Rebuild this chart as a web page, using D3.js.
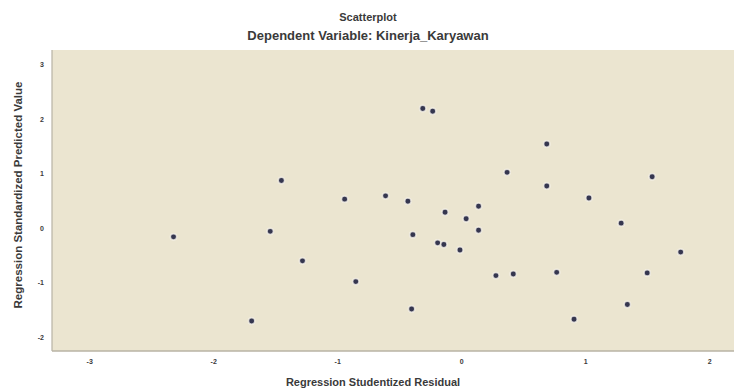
<!DOCTYPE html>
<html>
<head>
<meta charset="utf-8">
<script src="https://cdn.jsdelivr.net/npm/d3@7"></script>
<style>
  body { margin: 0; background: #fff; }
  text { font-family: "Liberation Sans", Arial, sans-serif; fill: #3a3a3a; }
</style>
</head>
<body>
<div id="chart"></div>
<script>
// Studentized residuals (x) and standardized predicted values (y)
var residual = [-2.32, -1.69, -1.54, -1.45, -1.28, -0.94, -0.85, -0.61, -0.43, -0.39, -0.40,
                -0.31, -0.23, -0.19, -0.14, -0.13, -0.01, 0.04, 0.14, 0.14, 0.28, 0.42,
                0.37, 0.69, 0.69, 0.77, 0.91, 1.03, 1.29, 1.34, 1.50, 1.54, 1.77];
var predicted = [-0.16, -1.70, -0.06, 0.87, -0.60, 0.53, -0.98, 0.59, 0.49, -0.12, -1.48,
                 2.19, 2.14, -0.27, -0.30, 0.29, -0.40, 0.17, 0.40, -0.04, -0.87, -0.84,
                 1.02, 1.54, 0.77, -0.81, -1.67, 0.55, 0.09, -1.40, -0.82, 0.94, -0.44];
var xTicks = [-3, -2, -1, 0, 1, 2];
var yTicks = [-2, -1, 0, 1, 2, 3];

var title = "Scatterplot";
var subtitle = "Dependent Variable: Kinerja_Karyawan";
var xTitle = "Regression Studentized Residual";
var yTitle = "Regression Standardized Predicted Value";

var W = 734, H = 392;
var plot = {left: 52, right: 734, top: 50, bottom: 351};

var svg = d3.select("#chart").append("svg")
    .attr("width", W)
    .attr("height", H);

var x = d3.scaleLinear().domain([-3.3, 2.2]).range([plot.left, plot.right]);
var y = d3.scaleLinear().domain([-2.25, 3.26]).range([plot.bottom, plot.top]);

// plot background
svg.append("rect")
    .attr("x", plot.left)
    .attr("y", plot.top)
    .attr("width", plot.right - plot.left)
    .attr("height", plot.bottom - plot.top)
    .attr("fill", "#ebe5d0");

// frame lines (left and bottom)
svg.append("line")
    .attr("x1", plot.left).attr("x2", plot.left)
    .attr("y1", plot.top).attr("y2", plot.bottom)
    .attr("stroke", "#b8b3a4").attr("stroke-width", 1.2);
svg.append("line")
    .attr("x1", plot.left).attr("x2", plot.right)
    .attr("y1", plot.bottom).attr("y2", plot.bottom)
    .attr("stroke", "#b8b3a4").attr("stroke-width", 1.5);

// axes: labels only, no lines or ticks
var xAxis = svg.append("g")
    .attr("transform", "translate(0," + (plot.bottom + 4) + ")")
    .call(d3.axisBottom(x).tickValues(xTicks).tickSize(0).tickPadding(4).tickFormat(String));
var yAxis = svg.append("g")
    .attr("transform", "translate(" + (plot.left - 4) + ",0)")
    .call(d3.axisLeft(y).tickValues(yTicks).tickSize(0).tickPadding(4).tickFormat(String));
[xAxis, yAxis].forEach(function(g) {
    g.select(".domain").remove();
    g.selectAll("text")
        .style("font-family", "Liberation Sans, Arial, sans-serif")
        .style("font-size", "7px")
        .style("font-weight", "bold")
        .attr("fill", "#555");
});

// points
var pts = residual.map(function(d, i) { return [d, predicted[i]]; });
svg.append("g").selectAll("circle")
    .data(pts)
    .enter()
    .append("circle")
    .attr("cx", function(d) { return x(d[0]); })
    .attr("cy", function(d) { return y(d[1]); })
    .attr("r", 3.2)
    .attr("fill", "#35364f")
    .attr("stroke", "#f6f3ea")
    .attr("stroke-opacity", 0.8)
    .attr("stroke-width", 1.5);

// titles
svg.append("text")
    .attr("x", 368).attr("y", 18)
    .attr("text-anchor", "middle").attr("dominant-baseline", "middle")
    .style("font-size", "11px").style("font-weight", "bold")
    .text(title);
svg.append("text")
    .attr("x", 368).attr("y", 37)
    .attr("text-anchor", "middle").attr("dominant-baseline", "middle")
    .style("font-size", "13px").style("font-weight", "bold")
    .text(subtitle);
svg.append("text")
    .attr("x", 373).attr("y", 383)
    .attr("text-anchor", "middle").attr("dominant-baseline", "middle")
    .style("font-size", "11px").style("font-weight", "bold")
    .text(xTitle);
svg.append("text")
    .attr("transform", "translate(19,195) rotate(-90)")
    .attr("text-anchor", "middle").attr("dominant-baseline", "middle")
    .style("font-size", "11.5px").style("font-weight", "bold")
    .text(yTitle);
</script>
</body>
</html>
